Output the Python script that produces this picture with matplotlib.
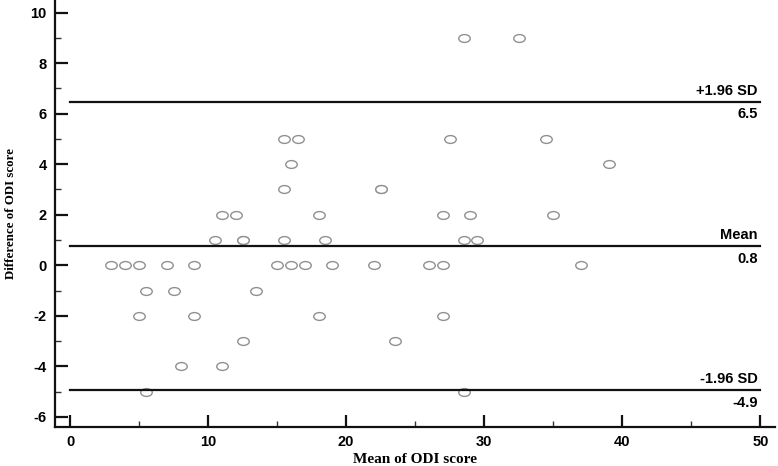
import numpy as np
import matplotlib
matplotlib.use("Agg")
import matplotlib.pyplot as plt
from matplotlib.path import Path
from matplotlib.ticker import MultipleLocator

plt.rcParams["axes.unicode_minus"] = False

# Bland-Altman data: mean of ODI score vs difference of ODI score
mean_odi = [3, 4, 5, 7, 9, 15, 16, 17, 19, 22, 26, 27, 37,
            5.5, 7.5, 13.5,
            5, 9, 18, 27,
            12.5, 23.5,
            8, 11,
            5.5, 28.5,
            10.5, 12.5, 12.5, 15.5, 18.5, 28.5, 29.5,
            11, 12, 18, 27, 29, 35,
            15.5, 22.5, 22.5,
            16, 39,
            15.5, 16.5, 27.5, 34.5,
            28.5, 32.5]
diff_odi = [0, 0, 0, 0, 0, 0, 0, 0, 0, 0, 0, 0, 0,
            -1, -1, -1,
            -2, -2, -2, -2,
            -3, -3,
            -4, -4,
            -5, -5,
            1, 1, 1, 1, 1, 1, 1,
            2, 2, 2, 2, 2, 2,
            3, 3, 3,
            4, 4,
            5, 5, 5, 5,
            9, 9]

line_vals = [6.47, 0.76, -4.95]
line_names = ["+1.96 SD", "Mean", "-1.96 SD"]
line_texts = ["6.5", "0.8", "-4.9"]

# slightly flattened open circle
circ = Path.unit_circle()
ellipse = Path(circ.vertices * np.array([1.0, 0.68]), circ.codes)

fig = plt.figure(figsize=(7.78, 4.66), dpi=100)
ax = fig.add_axes([0.0707, 0.0837, 0.926, 0.9163])

ax.plot(mean_odi, diff_odi, linestyle="none", marker=ellipse, markersize=8.3,
        markerfacecolor="white", markeredgecolor="#909090", markeredgewidth=1.0)

for v, nm, tx in zip(line_vals, line_names, line_texts):
    ax.plot([0, 50], [v, v], color="#111111", lw=1.6)
    ax.annotate(nm, (49.8, v), xytext=(0, 3), textcoords="offset points",
                ha="right", va="bottom", fontsize=10.5, fontweight="bold",
                family="Liberation Sans")
    ax.annotate(tx, (49.8, v), xytext=(0, -4), textcoords="offset points",
                ha="right", va="top", fontsize=10.5, fontweight="bold",
                family="Liberation Sans")

ax.set_xlim(-1.09, 51.09)
ax.set_ylim(-6.4, 10.5)
ax.xaxis.set_major_locator(MultipleLocator(10))
ax.xaxis.set_minor_locator(MultipleLocator(5))
ax.yaxis.set_major_locator(MultipleLocator(2))
ax.yaxis.set_minor_locator(MultipleLocator(1))

ax.spines["top"].set_visible(False)
ax.spines["right"].set_visible(False)
for s in ["left", "bottom"]:
    ax.spines[s].set_linewidth(1.6)
    ax.spines[s].set_color("#111111")

ax.tick_params(which="major", direction="in", length=9, width=1.6,
               color="#111111", pad=6)
ax.tick_params(which="minor", direction="in", length=4, width=1.0,
               color="#333333")
for lab in ax.get_xticklabels() + ax.get_yticklabels():
    lab.set_fontsize(10.5)
    lab.set_fontweight("bold")
    lab.set_family("Liberation Sans")

ax.set_xlabel("Mean of ODI score", fontsize=11, fontweight="bold",
              family="Liberation Serif", labelpad=3)
ax.set_ylabel("Difference of ODI score", fontsize=9.3, fontweight="bold",
              family="Liberation Serif", labelpad=10)

fig.savefig("out.png", dpi=100)
